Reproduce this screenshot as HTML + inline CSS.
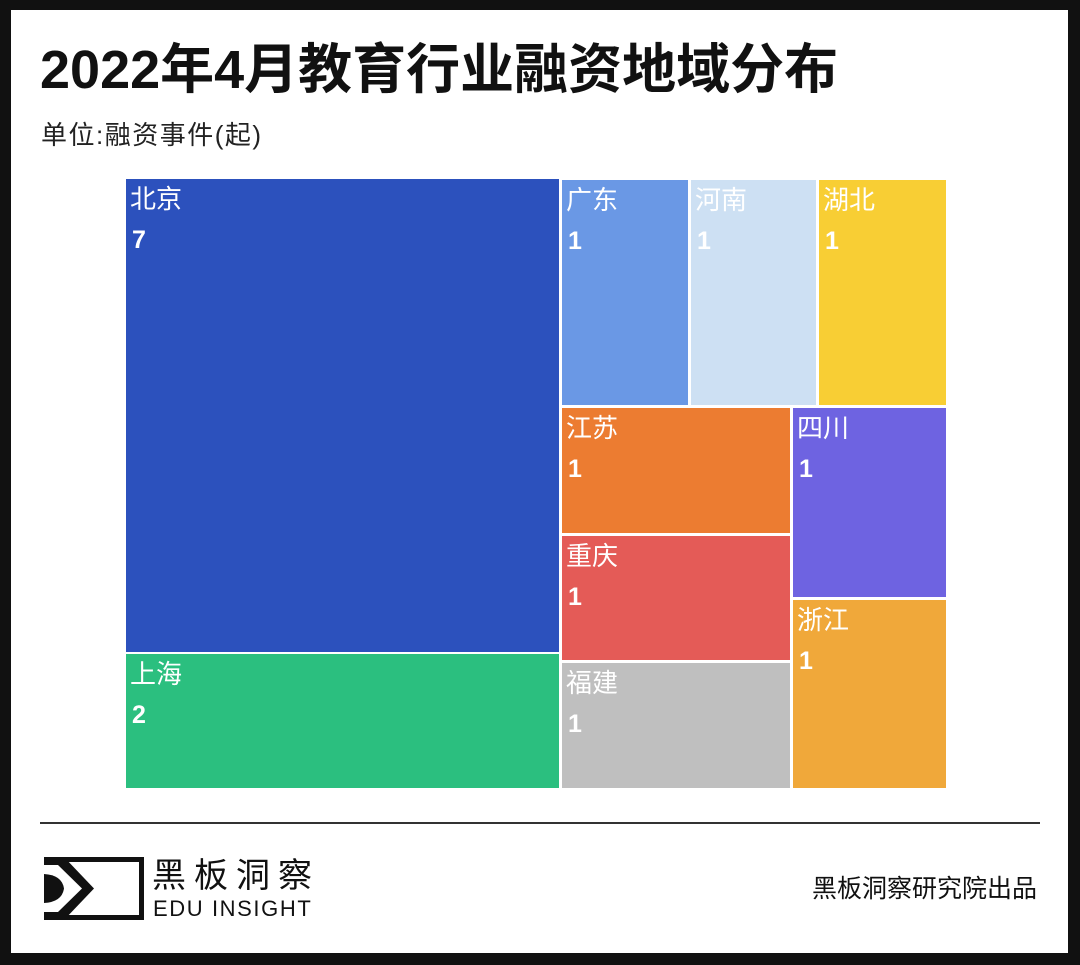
<!DOCTYPE html>
<html><head><meta charset="utf-8"><style>
*{margin:0;padding:0;box-sizing:border-box}
body{width:1080px;height:965px;background:#111;position:relative;overflow:hidden;font-family:"Liberation Sans","Noto Sans CJK SC",sans-serif}
.page{position:absolute;left:11px;top:10px;width:1057px;height:943px;background:#fff}
.t{position:absolute;white-space:nowrap}
.r{position:absolute;color:#fff}
.r .n{position:absolute;left:4px;top:4px;font-size:26px;line-height:32px}
.r .v{position:absolute;left:6px;top:46px;font-size:25px;line-height:30px;font-weight:bold}
</style></head><body>
<div class="page"></div>
<div class="t" style="left:40px;top:38px;font-size:54px;font-weight:bold;color:#111;line-height:64px">2022年4月教育行业融资地域分布</div>
<div class="t" style="left:41px;top:118px;font-size:26px;letter-spacing:1.5px;color:#222;line-height:34px">单位:融资事件(起)</div>

<div class="r" style="left:126px;top:179px;width:433px;height:473px;background:#2c51bd"><span class="n">北京</span><span class="v">7</span></div>
<div class="r" style="left:126px;top:654px;width:433px;height:134px;background:#2bbf7f"><span class="n">上海</span><span class="v">2</span></div>
<div class="r" style="left:562px;top:180px;width:126px;height:225px;background:#6a98e5"><span class="n">广东</span><span class="v">1</span></div>
<div class="r" style="left:691px;top:180px;width:125px;height:225px;background:#cde0f3"><span class="n">河南</span><span class="v">1</span></div>
<div class="r" style="left:819px;top:180px;width:127px;height:225px;background:#f8ce34"><span class="n">湖北</span><span class="v">1</span></div>
<div class="r" style="left:562px;top:408px;width:228px;height:125px;background:#ec7c31"><span class="n">江苏</span><span class="v">1</span></div>
<div class="r" style="left:793px;top:408px;width:153px;height:189px;background:#6e63e1"><span class="n">四川</span><span class="v">1</span></div>
<div class="r" style="left:562px;top:536px;width:228px;height:124px;background:#e45b57"><span class="n">重庆</span><span class="v">1</span></div>
<div class="r" style="left:562px;top:663px;width:228px;height:125px;background:#bfbfbf"><span class="n">福建</span><span class="v">1</span></div>
<div class="r" style="left:793px;top:600px;width:153px;height:188px;background:#f0a83a"><span class="n">浙江</span><span class="v">1</span></div>

<div style="position:absolute;left:40px;top:822px;width:1000px;height:2px;background:#333"></div>

<svg style="position:absolute;left:44px;top:857px" width="100" height="63" viewBox="0 0 100 63">
<rect x="2.5" y="2.5" width="95" height="58" fill="none" stroke="#111" stroke-width="5"/>
<path d="M0 0 L20 0 L50 31.5 L20 63 L0 63 Z" fill="#111"/>
<path d="M0 8 L14 8 L38 31.5 L14 55 L0 55 Z" fill="#fff"/>
<path d="M0 17 Q18 18 20 31.5 Q18 45 0 46 Z" fill="#111"/>
</svg>
<div class="t" style="left:152px;top:855px;font-size:34px;letter-spacing:8px;color:#111;line-height:42px">黑板洞察</div>
<div class="t" style="left:153px;top:897px;font-size:22px;letter-spacing:1.6px;color:#111;line-height:24px">EDU INSIGHT</div>
<div class="t" style="left:812px;top:874px;font-size:25px;color:#111;line-height:30px">黑板洞察研究院出品</div>
</body></html>
